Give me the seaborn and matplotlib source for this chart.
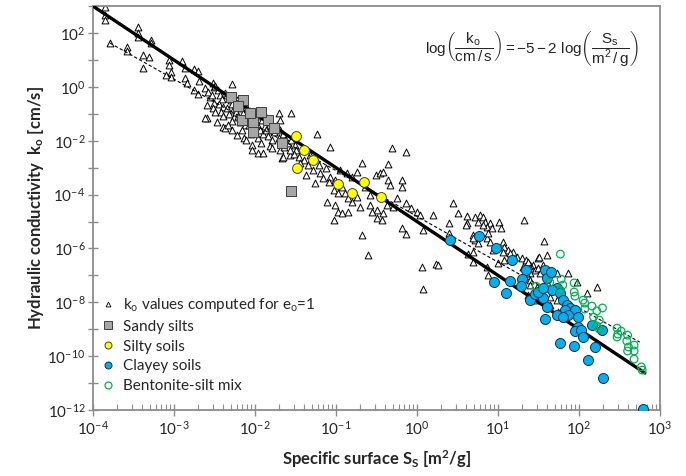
import numpy as np
import matplotlib
matplotlib.use('Agg')
import matplotlib.pyplot as plt
import seaborn as sns
from matplotlib.lines import Line2D
from matplotlib.ticker import FixedLocator, FuncFormatter, NullFormatter, NullLocator

# values, as (log10 S_s [m2/g], log10 k_o [cm/s])
computed_e1 = [
    (-3.85, 2.96), (-3.85, 2.66), (-3.85, 2.48), (-3.44, 2.22), (-3.44, 2.00), (-3.44, 1.85),
    (-3.79, 1.63), (-3.58, 1.48), (-3.58, 1.33), (-3.28, 1.74), (-3.28, 1.63), (-3.38, 1.18),
    (-3.31, 1.11), (-3.38, 0.70), (-3.06, 0.99), (-3.06, 0.81), (-2.90, 0.96), (-3.10, 0.44),
    (-3.04, 0.55), (-3.04, 0.36), (-2.75, 0.66), (-2.70, 0.59), (-2.86, 0.33), (-2.84, 0.14),
    (-2.69, 0.22), (-2.75, -0.12), (-2.71, -0.27), (-2.59, -1.16), (-2.62, -1.16), (-2.87, 0.70),
    (-2.56, -0.38), (-2.59, -0.68), (-2.52, 0.14), (-2.51, 0.00), (-2.28, 0.10), (-2.47, -1.31),
    (-2.40, -1.49),
    (-2.62, -0.04), (-2.58, -0.19), (-2.53, -0.30), (-2.51, -0.60), (-2.52, -0.79), (-2.50, -0.94),
    (-2.50, 0.03), (-2.46, -0.12), (-2.43, -0.30), (-2.41, -0.45), (-2.45, -0.64), (-2.39, -0.75),
    (-2.42, -0.94), (-2.40, -1.08), (-2.37, -0.23), (-2.37, -1.53), (-2.34, -0.30), (-2.30, -0.49),
    (-2.28, -0.64), (-2.34, -0.79), (-2.27, -0.86), (-2.32, -1.01), (-2.26, -1.12), (-2.29, -1.27),
    (-2.33, -1.42), (-2.28, -1.60), (-2.22, -0.49), (-2.20, -0.64), (-2.17, -0.79), (-2.23, -0.94),
    (-2.15, -0.97), (-2.21, -1.08), (-2.18, -1.31), (-2.12, -1.42), (-2.16, -1.60), (-2.22, -1.79),
    (-2.14, -1.90), (-2.10, -0.79), (-2.06, -0.90), (-2.04, -1.05), (-2.09, -1.16), (-2.01, -1.23),
    (-2.08, -1.42), (-2.03, -1.57), (-2.05, -1.75), (-2.11, -1.98), (-2.04, -2.16), (-2.04, -2.35),
    (-1.97, -0.94), (-1.93, -1.08), (-1.91, -1.23), (-1.98, -1.38), (-1.88, -1.46), (-1.94, -1.60),
    (-1.90, -1.75), (-1.96, -1.90), (-1.92, -2.09), (-1.96, -2.46), (-1.90, -2.46), (-1.85, -1.16),
    (-1.81, -1.31), (-1.79, -1.46), (-1.86, -1.60), (-1.76, -1.68), (-1.84, -1.83), (-1.79, -1.98),
    (-1.81, -2.20), (-1.79, -2.27), (-1.73, -1.42), (-1.69, -1.60), (-1.65, -1.75), (-1.71, -1.90),
    (-1.63, -1.98), (-1.59, -2.09), (-1.69, -2.35), (-1.64, -2.24), (-1.57, -2.53), (-1.70, -0.97),
    (-1.69, -1.23), (-1.55, -0.97), (-1.55, -1.98), (-1.51, -2.16), (-1.49, -2.35), (-1.52, -2.50),
    (-1.46, -2.61), (-1.67, -2.64),
    (-1.23, -1.75), (-1.08, -2.24), (-0.31, -2.27), (-0.14, -2.42), (-0.68, -2.83), (-0.36, -2.87),
    (-1.57, -2.35), (-1.65, -2.61), (-1.26, -3.57), (-1.11, -4.28), (-1.01, -4.39), (-0.97, -4.65),
    (-1.02, -4.95), (-0.68, -5.50), (-0.61, -6.25), (-0.19, -5.24), (-0.14, -5.47), (0.08, -5.32),
    (-0.86, -3.20), (-0.74, -3.16), (-0.80, -3.35), (-0.51, -3.27), (-0.46, -3.20), (-0.42, -3.16),
    (-0.36, -3.46), (-0.33, -3.65), (-0.19, -3.46), (-0.19, -3.72), (-0.64, -3.72), (-0.58, -4.02),
    (-0.74, -4.09), (-0.80, -4.28), (-0.71, -4.46), (-0.58, -4.39), (-0.49, -4.58), (-0.55, -4.65),
    (-0.37, -4.39), (-0.30, -4.46), (-0.25, -4.13), (-0.13, -4.32), (-0.07, -4.50), (0.00, -4.65),
    (0.04, -4.76), (-0.49, -4.87), (-0.43, -4.95), (-0.42, -4.69), (-1.20, -3.20), (-1.16, -3.38),
    (-1.08, -3.35), (-1.01, -3.46), (-1.09, -3.53), (-1.03, -3.83), (-0.97, -3.94), (-0.92, -3.72),
    (-0.89, -3.94), (-0.85, -4.13), (-0.85, -4.65), (-0.92, -4.69), (-1.40, -2.72), (-1.34, -2.90),
    (-1.28, -3.09), (-1.44, -2.83), (-1.37, -3.27), (-1.21, -2.90), (-1.12, -3.01), (-0.95, -3.09),
    (-1.32, -2.53), (0.06, -6.69), (0.08, -7.51), (0.24, -6.58),
    (0.44, -4.32), (0.20, -4.76), (0.51, -4.69), (0.62, -4.80), (0.71, -4.83), (0.78, -4.76),
    (0.82, -4.83), (0.75, -5.02), (0.84, -5.02), (0.90, -5.06), (0.87, -5.21), (0.93, -5.24),
    (1.01, -5.02), (1.04, -5.24), (1.32, -4.95), (0.39, -5.06), (0.62, -5.06), (0.69, -5.50),
    (0.71, -5.69), (0.75, -5.80), (0.87, -5.61), (0.90, -5.76), (0.88, -5.43), (1.06, -5.76),
    (1.08, -5.95), (1.12, -6.06), (1.18, -6.13), (1.06, -6.13), (1.00, -6.54), (1.08, -6.43),
    (1.24, -6.32), (1.30, -6.36), (1.34, -6.43), (1.36, -6.62), (1.43, -6.62), (1.46, -6.80),
    (1.49, -6.36), (1.31, -6.69), (1.40, -6.91), (0.69, -6.13), (0.63, -6.21), (0.39, -5.43),
    (0.26, -6.62), (0.88, -6.99), (0.86, -6.69), (0.60, -5.13), (0.82, -5.13), (1.57, -5.73),
    (0.69, -5.61), (0.94, -6.06), (1.15, -6.17), (1.40, -6.62), (1.49, -6.73), (1.50, -6.32),
    (1.60, -6.25), (1.34, -6.91), (1.40, -7.17), (1.48, -7.43), (1.40, -7.36), (1.60, -7.25),
    (1.64, -6.91), (1.73, -6.91), (1.87, -6.91), (1.98, -7.25), (2.10, -7.66), (2.22, -7.43),
    (0.69, -6.50), (1.37, -7.73), (1.46, -7.92), (1.64, -7.80), (1.73, -7.92), (1.64, -8.10),
    (1.74, -8.36), (1.80, -7.84), (1.37, -6.50), (1.55, -6.62), (1.40, -6.73), (1.52, -6.91),
    (1.61, -7.10),
]

sandy_silts = [
    (-2.30, -0.38), (-2.15, -0.49), (-2.21, -0.71), (-2.16, -1.23), (-2.03, -1.31), (-2.03, -1.68),
    (-1.84, -1.23), (-1.76, -1.53), (-1.67, -2.09), (-1.55, -3.87), (-2.06, -0.97), (-1.92, -0.94),
]

silty_soils = [
    (-1.50, -1.83), (-1.39, -2.35), (-1.29, -2.72), (-1.48, -3.01), (-0.97, -3.61), (-0.80, -3.94),
    (-0.66, -3.53), (-0.44, -4.09),
]

clayey_soils = [
    (0.41, -5.69), (0.76, -5.54), (0.98, -5.99), (1.17, -6.43), (1.34, -6.80), (1.58, -6.80),
    (1.60, -7.10), (0.95, -7.25), (1.15, -7.21), (1.30, -7.14), (1.29, -7.40), (1.10, -7.66),
    (1.40, -7.92), (1.46, -7.69), (1.55, -7.84), (1.49, -7.62), (1.66, -6.88), (1.73, -7.47),
    (1.67, -7.55), (1.77, -7.66), (1.80, -7.92), (1.85, -8.10), (1.89, -8.21), (1.95, -8.29),
    (1.83, -8.29), (1.87, -8.47), (1.73, -8.47), (1.58, -8.62), (1.80, -8.55), (1.99, -8.55),
    (1.99, -8.92), (1.95, -9.07), (2.03, -9.03), (2.05, -9.29), (2.16, -8.85), (2.29, -9.03),
    (1.77, -9.51), (1.94, -9.63), (2.20, -9.66), (2.11, -10.14), (2.30, -10.81), (2.79, -11.96),
    (1.60, -8.18), (1.55, -7.47),
]

bentonite_silt = [
    (1.77, -6.21), (1.78, -7.14), (1.94, -7.28), (1.64, -7.25), (1.47, -7.40), (1.77, -7.55),
    (1.94, -7.62), (1.95, -7.77), (2.05, -7.92), (2.07, -8.03), (2.16, -8.14), (2.22, -8.32),
    (2.29, -8.21), (2.07, -8.25), (2.18, -8.55), (2.25, -8.66), (2.22, -8.88), (2.25, -8.99),
    (2.47, -8.96), (2.52, -9.07), (2.48, -9.18), (2.47, -9.29), (2.60, -9.22), (2.59, -9.44),
    (2.68, -9.59), (2.61, -9.66), (2.60, -9.81), (2.68, -9.81), (2.68, -10.11), (2.77, -10.40),
    (2.78, -10.52), (1.80, -7.36),
]

# fitted (dashed) trend of the computed values, end points
trend_log_s = [-3.79, 2.75]
trend_log_k = [1.63, -9.48]

# log(k/cm/s) = -5 - 2 log(S/m2/g)
line_s = np.array([1e-4, 6.5e2])
line_k = 10 ** (-5 - 2 * np.log10(line_s))

x_decades = np.arange(-4, 4)
y_decades = np.arange(-12, 4)


def to_xy(pts):
    a = np.array(pts)
    return 10 ** a[:, 0], 10 ** a[:, 1]


sns.set_theme(style='white')
plt.rcParams['font.family'] = ['Lato', 'DejaVu Sans']
plt.rcParams['mathtext.fontset'] = 'custom'
plt.rcParams['mathtext.rm'] = 'Liberation Sans'
plt.rcParams['mathtext.it'] = 'Liberation Sans:italic'
plt.rcParams['mathtext.bf'] = 'Liberation Sans:bold'

fig = plt.figure(figsize=(6.86, 4.76), dpi=100)
ax = fig.add_axes([0.1356, 0.1387, 0.8265, 0.8483])

x, y = to_xy(computed_e1)
sns.scatterplot(x=x, y=y, marker='^', s=24, color='white', edgecolor='black',
                linewidth=0.7, ax=ax, zorder=2)

ax.plot(10 ** np.array(trend_log_s), 10 ** np.array(trend_log_k), color='black',
        lw=0.8, ls=(0, (3, 2)), zorder=3)
ax.plot(line_s, line_k, color='black', lw=2.4, zorder=3)

x, y = to_xy(sandy_silts)
sns.scatterplot(x=x, y=y, marker='s', s=55, color='#a6a6a6', edgecolor='#404040',
                linewidth=0.7, ax=ax, zorder=4)
x, y = to_xy(silty_soils)
sns.scatterplot(x=x, y=y, marker='o', s=50, color='#ffff00', edgecolor='#404040',
                linewidth=0.7, ax=ax, zorder=4)
x, y = to_xy(clayey_soils)
sns.scatterplot(x=x, y=y, marker='o', s=52, color='#00b0f0', edgecolor='#1a2f45',
                linewidth=0.7, ax=ax, zorder=4)
x, y = to_xy(bentonite_silt)
sns.scatterplot(x=x, y=y, marker='o', s=30, color='none', edgecolor='#00b050',
                linewidth=0.9, ax=ax, zorder=5)

ax.set_xscale('log')
ax.set_yscale('log')
ax.set_xlim(1e-4, 1e3)
ax.set_ylim(1e-12, 1e3)


def exp_label(v, pos):
    e = int(round(np.log10(v)))
    return r'$\mathregular{10^{%d}}$' % e


def exp_label_even(v, pos):
    e = int(round(np.log10(v)))
    if e % 2:
        return ''
    return r'$\mathregular{10^{%d}}$' % e


minor_x = [m * 10.0 ** d for d in x_decades[:-1] for m in range(2, 10)]
ax.xaxis.set_major_locator(FixedLocator(10.0 ** x_decades))
ax.xaxis.set_minor_locator(FixedLocator(minor_x))
ax.xaxis.set_major_formatter(FuncFormatter(exp_label))
ax.xaxis.set_minor_formatter(NullFormatter())
ax.yaxis.set_major_locator(FixedLocator(10.0 ** y_decades))
ax.yaxis.set_minor_locator(NullLocator())
ax.yaxis.set_major_formatter(FuncFormatter(exp_label_even))

grey = '#8c8c8c'
for sp in ax.spines.values():
    sp.set_color(grey)
    sp.set_linewidth(1.3)
ax.tick_params(axis='x', which='major', direction='inout', length=8, width=1, color=grey,
               labelsize=11, pad=3, bottom=True)
ax.tick_params(axis='x', which='minor', direction='in', length=4, width=0.8, color=grey, bottom=True)
ax.tick_params(axis='y', which='major', direction='inout', length=7, width=1, color=grey,
               labelsize=11, pad=2, left=True)

ax.set_xlabel(r'Specific surface S$_\mathregular{S}$ [m$^\mathregular{2}$/g]',
              fontsize=12, fontweight='bold', labelpad=8)
ax.set_ylabel(r'Hydraulic conductivity  k$_\mathregular{o}$ [cm/s]',
              fontsize=12, fontweight='bold', labelpad=1)

ax.text(0.775, 0.895,
        r'$\mathrm{log}\left(\dfrac{\mathrm{k_o}}{\mathrm{cm\,/\,s}}\right)=-5-2\ \mathrm{log}\left(\dfrac{\mathrm{S_s}}{\mathrm{m^2\,/\,g}}\right)$',
        transform=ax.transAxes, ha='center', va='center', fontsize=11)

handles = [
    Line2D([], [], marker='^', ls='', markersize=3.5, mfc='white', mec='black', mew=0.6),
    Line2D([], [], marker='s', ls='', markersize=5.5, mfc='#a6a6a6', mec='#404040', mew=0.7),
    Line2D([], [], marker='o', ls='', markersize=5, mfc='#ffff00', mec='#404040', mew=0.7),
    Line2D([], [], marker='o', ls='', markersize=5, mfc='#00b0f0', mec='#1a2f45', mew=0.7),
    Line2D([], [], marker='o', ls='', markersize=5, mfc='none', mec='#00b050', mew=0.9),
]
labels = [
    r'k$_\mathregular{o}$ values computed for e$_\mathregular{o}$=1',
    'Sandy silts',
    'Silty soils',
    'Clayey soils',
    'Bentonite-silt mix',
]
ax.legend(handles, labels, loc='upper left', bbox_to_anchor=(0.005, 0.29), frameon=False,
          fontsize=11, handletextpad=0.4, labelspacing=0.38, handlelength=1.2,
          borderaxespad=0, borderpad=0.2)

fig.savefig('out.png', dpi=100)
